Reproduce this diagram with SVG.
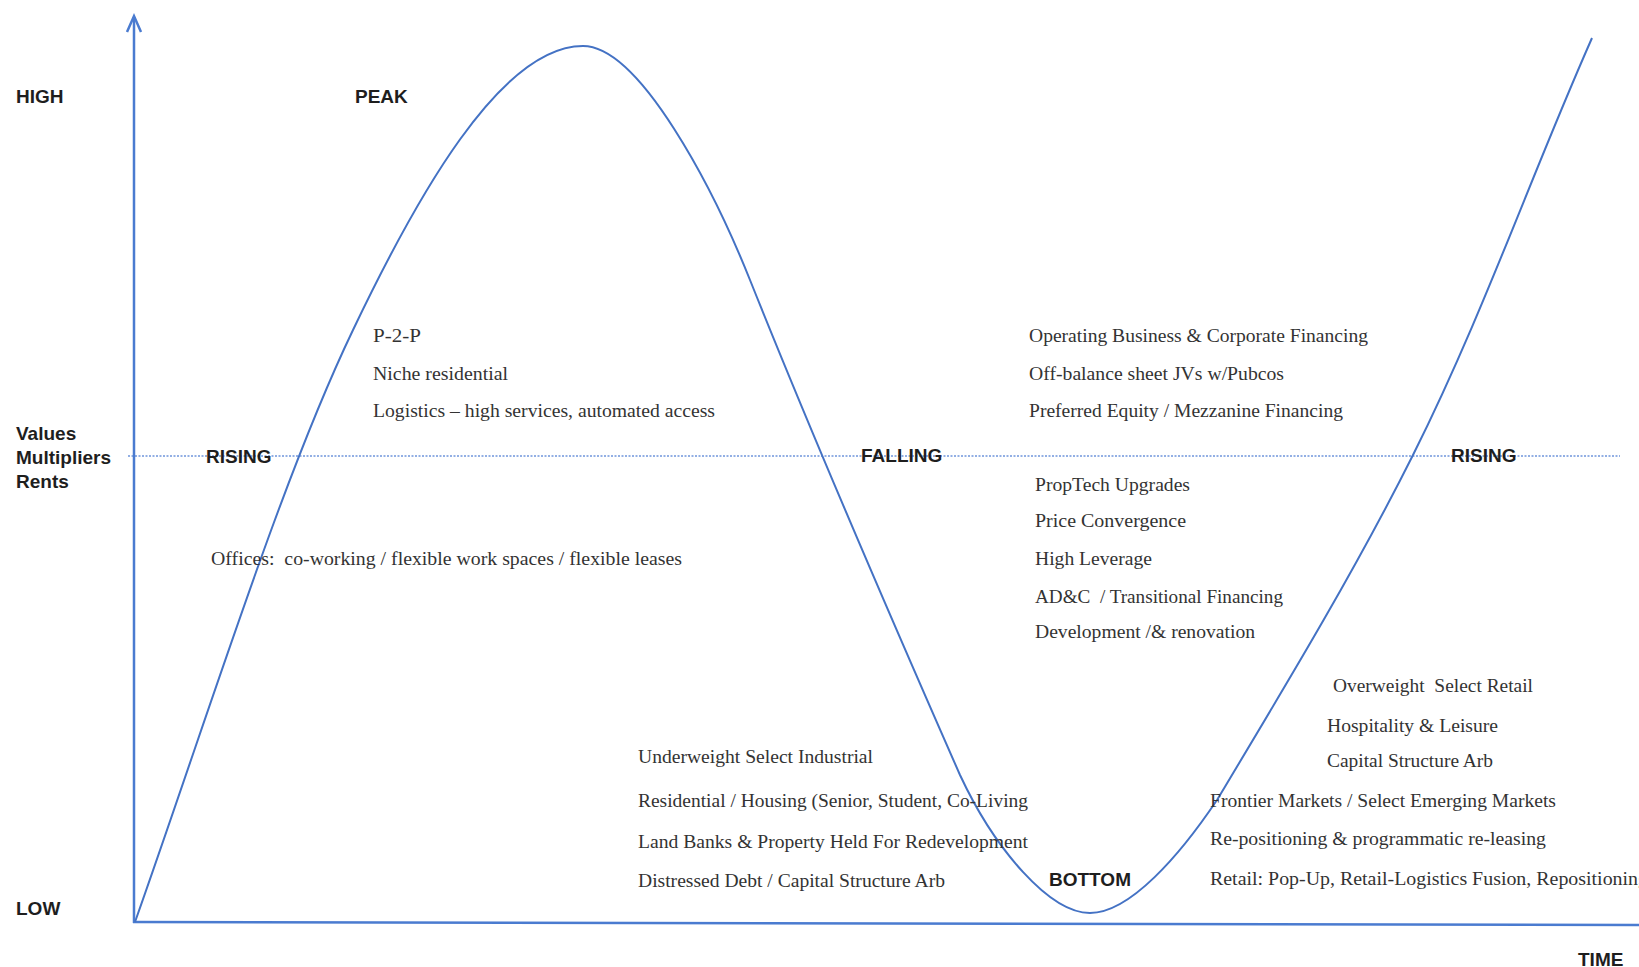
<svg xmlns="http://www.w3.org/2000/svg" width="1639" height="967" viewBox="0 0 1639 967">
<style>
.b{font-family:"Liberation Sans",Arial,sans-serif;font-weight:bold;font-size:19px;fill:#1e1e1e}
.s{font-family:"Liberation Serif","Times New Roman",serif;font-size:19.5px;fill:#333}
.ax{stroke:#4a7bd0;stroke-width:2.5;fill:none}
.cv{stroke:#4472c4;stroke-width:2;fill:none}
.dt{stroke:#6f95db;stroke-width:1.5;stroke-dasharray:2 1.5;fill:none}
</style>
<rect width="1639" height="967" fill="#fff"/>
<g id="connectors">
<line class="dt" x1="128" y1="456" x2="1620" y2="456"/>
<line class="ax" x1="134" y1="923" x2="134" y2="17"/>
<polyline class="ax" points="127,32 134,16 141,32" stroke-linejoin="miter"/>
<line class="ax" x1="133" y1="922" x2="1639" y2="925"/>
<path class="cv" d="M135,922 C210,710 281,480 353,330 C415,200 500,46 583,46 C640,46 714,190 750,280 C818,450 905,650 960,775 C995,850 1050,913 1090,913 C1130,913 1180,855 1217,800 C1286,685 1355.5,570 1413,455 C1483,315 1530,178 1592,38"/>
</g>
<g id="axis-labels">
<g id="high"><text class="b" x="16" y="103">HIGH</text></g>
<g id="low"><text class="b" x="16" y="915">LOW</text></g>
<g id="ylabel"><text class="b" x="16" y="439.5">Values</text><text class="b" x="16" y="463.5">Multipliers</text><text class="b" x="16" y="488">Rents</text></g>
<g id="time"><text class="b" x="1578" y="966" font-size="18">TIME</text></g>
</g>
<g id="phase-peak"><text class="b" x="355" y="103">PEAK</text></g>
<g id="phase-rising-1"><text class="b" x="206" y="463">RISING</text></g>
<g id="phase-falling"><text class="b" x="861" y="462">FALLING</text></g>
<g id="phase-rising-2"><text class="b" x="1451" y="462">RISING</text></g>
<g id="phase-bottom"><text class="b" x="1049" y="886">BOTTOM</text></g>
<g id="peak-list">
<text class="s" x="373" y="341.5" textLength="48" lengthAdjust="spacingAndGlyphs">P-2-P</text>
<text class="s" x="373" y="380" textLength="135" lengthAdjust="spacingAndGlyphs">Niche residential</text>
<text class="s" x="373" y="417" textLength="342" lengthAdjust="spacingAndGlyphs">Logistics – high services, automated access</text>
</g>
<g id="rising-list">
<text class="s" x="211" y="565" textLength="471" lengthAdjust="spacingAndGlyphs" xml:space="preserve">Offices:  co-working / flexible work spaces / flexible leases</text>
</g>
<g id="falling-upper-list">
<text class="s" x="1029" y="341.5" textLength="339" lengthAdjust="spacingAndGlyphs">Operating Business &amp; Corporate Financing</text>
<text class="s" x="1029" y="380" textLength="255" lengthAdjust="spacingAndGlyphs">Off-balance sheet JVs w/Pubcos</text>
<text class="s" x="1029" y="416.5" textLength="314" lengthAdjust="spacingAndGlyphs">Preferred Equity / Mezzanine Financing</text>
</g>
<g id="falling-lower-list">
<text class="s" x="1035" y="490.5" textLength="155" lengthAdjust="spacingAndGlyphs">PropTech Upgrades</text>
<text class="s" x="1035" y="526.5" textLength="151" lengthAdjust="spacingAndGlyphs">Price Convergence</text>
<text class="s" x="1035" y="565" textLength="117" lengthAdjust="spacingAndGlyphs">High Leverage</text>
<text class="s" x="1035" y="603" textLength="248" lengthAdjust="spacingAndGlyphs" xml:space="preserve">AD&amp;C  / Transitional Financing</text>
<text class="s" x="1035" y="638" textLength="220" lengthAdjust="spacingAndGlyphs">Development /&amp; renovation</text>
</g>
<g id="bottom-left-list">
<text class="s" x="638" y="762.5" textLength="235" lengthAdjust="spacingAndGlyphs">Underweight Select Industrial</text>
<text class="s" x="638" y="806.5" textLength="390" lengthAdjust="spacingAndGlyphs">Residential / Housing (Senior, Student, Co-Living</text>
<text class="s" x="638" y="847.5" textLength="390" lengthAdjust="spacingAndGlyphs">Land Banks &amp; Property Held For Redevelopment</text>
<text class="s" x="638" y="887" textLength="307" lengthAdjust="spacingAndGlyphs">Distressed Debt / Capital Structure Arb</text>
</g>
<g id="bottom-right-upper-list">
<text class="s" x="1333" y="691.5" textLength="200" lengthAdjust="spacingAndGlyphs" xml:space="preserve">Overweight  Select Retail</text>
<text class="s" x="1327" y="731.5" textLength="171" lengthAdjust="spacingAndGlyphs">Hospitality &amp; Leisure</text>
<text class="s" x="1327" y="766.5" textLength="166" lengthAdjust="spacingAndGlyphs">Capital Structure Arb</text>
</g>
<g id="bottom-right-lower-list">
<text class="s" x="1210" y="806.5" textLength="346" lengthAdjust="spacingAndGlyphs">Frontier Markets / Select Emerging Markets</text>
<text class="s" x="1210" y="845" textLength="336" lengthAdjust="spacingAndGlyphs">Re-positioning &amp; programmatic re-leasing</text>
<text class="s" x="1210" y="885" textLength="438" lengthAdjust="spacingAndGlyphs">Retail: Pop-Up, Retail-Logistics Fusion, Repositioning</text>
</g>
</svg>
